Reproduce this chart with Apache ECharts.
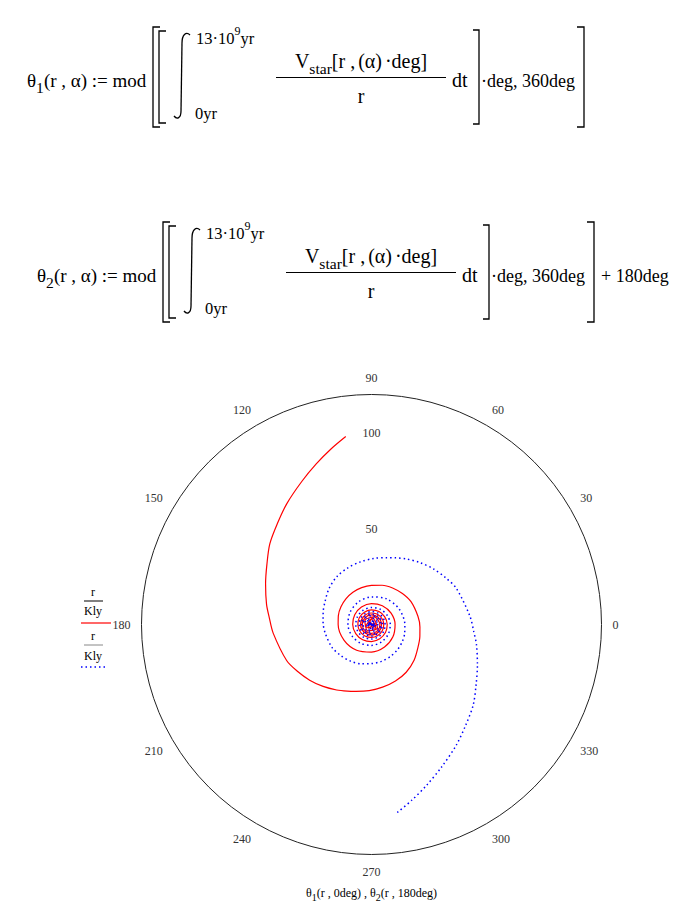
<!DOCTYPE html>
<html><head><meta charset="utf-8">
<script src="https://cdn.jsdelivr.net/npm/echarts@6/dist/echarts.min.js"></script>
<style>html,body{margin:0;padding:0;background:#fff}#c{width:685px;height:905px}</style>
</head><body><div id="c"></div>
<script>
// ---- data ----
const angleTicks = [0, 30, 60, 90, 120, 150, 180, 210, 240, 270, 300, 330];
const radiusTickLabels = [50, 100];
const radiusMax = 120;

// theta1(r, 0deg) : radius in Kly and angle in deg (outer end -> centre)
const redR = [99, 94, 88.6, 83, 77, 72, 67.7, 63, 59.2, 55.8, 53.5, 51.5, 48.1, 45.8, 43.4, 41, 38.7, 37, 35.8, 34.5, 33.2, 32, 30.8, 29, 27, 26, 25.3,
  24.6, 23.8, 22.8, 22, 21.2, 20.4, 19.9, 19.4, 18.9, 18.4, 17.9, 17.4, 16.5, 15.5, 14.4, 13.6, 12.9,
  12.3, 11.8, 11.3, 10.9, 10.5, 10.1, 9.8, 9.5, 9.2, 8.9, 8.6, 8.4,
  8.2, 8.0, 7.8, 7.6, 7.4, 7.3, 7.1, 7.0, 6.9, 6.75, 6.6, 6.5,
  6.4, 6.2, 6.0, 5.85, 5.7, 5.55, 5.45, 5.35,
  5.25, 5.1, 5.0, 4.9, 4.8, 4.7, 4.6, 4.5,
  4.4, 4.2, 4.0, 3.8, 3.6, 3.4, 3.2, 3.0, 2.8, 2.6, 2.4, 2.2, 2.0, 1.8, 1.6, 1.4, 1.2, 1.0, 0.8, 0.6, 0.4];
const redTheta = [97.8, 103, 109, 116, 125, 133, 141.6, 150, 159, 169, 176, 185, 203, 212, 222, 232, 242, 250, 257, 268, 280, 293, 306, 320, 334, 346, 357,
  10, 30, 45, 60, 75, 90, 105, 120, 135, 150, 165, 180, 210, 240, 270, 300, 330,
  0, 30, 60, 90, 120, 150, 180, 210, 240, 270, 300, 330,
  0, 30, 60, 90, 120, 150, 180, 210, 240, 270, 300, 330,
  0, 45, 90, 135, 180, 225, 270, 315,
  0, 45, 90, 135, 180, 225, 270, 315,
  0, 70, 150, 240, 330, 80, 200, 320, 90, 230, 10, 170, 330, 140, 310, 120, 300, 130, 320, 170, 20];

// theta2(r, 180deg)
const blueR = [99, 94, 88.6, 83, 77, 72, 67.7, 63, 59.2, 55.8, 53.5, 51.5, 48.1, 45.8, 43.4, 41, 38.7, 37, 35.8, 34.5, 33.2, 32, 30.8, 29, 27, 26, 25.3,
  24.6, 23.8, 22.8, 22, 21.2, 20.4, 19.9, 19.4, 18.9, 18.4, 17.9, 17.4, 16.5, 15.5, 14.4, 13.6, 12.9,
  12.3, 11.8, 11.3, 10.9, 10.5, 10.1, 9.8, 9.5, 9.2, 8.9, 8.6, 8.4,
  8.2, 8.0, 7.8, 7.6, 7.4, 7.3, 7.1, 7.0, 6.9, 6.75, 6.6, 6.5,
  6.4, 6.2, 6.0, 5.85, 5.7, 5.55, 5.45, 5.35,
  5.25, 5.1, 5.0, 4.9, 4.8, 4.7, 4.6, 4.5,
  4.4, 4.2, 4.0, 3.8, 3.6, 3.4, 3.2, 3.0, 2.8, 2.6, 2.4, 2.2, 2.0, 1.8, 1.6, 1.4, 1.2, 1.0, 0.8, 0.6, 0.4];
const blueTheta = [277.8, 283, 289, 296, 305, 313, 321.6, 330, 339, 349, 356, 5, 23, 32, 42, 52, 62, 70, 77, 88, 100, 113, 126, 140, 154, 166, 177,
  190, 210, 225, 240, 255, 270, 285, 300, 315, 330, 345, 0, 30, 60, 90, 120, 150,
  180, 210, 240, 270, 300, 330, 0, 30, 60, 90, 120, 150,
  180, 210, 240, 270, 300, 330, 0, 30, 60, 90, 120, 150,
  180, 225, 270, 315, 0, 45, 90, 135,
  180, 225, 270, 315, 0, 45, 90, 135,
  180, 250, 330, 60, 150, 260, 20, 140, 270, 50, 190, 350, 150, 320, 130, 300, 120, 310, 140, 350, 200];

// ---- chart ----
const SERIF = '"Liberation Serif", "Times New Roman", serif';
const chart = echarts.init(document.getElementById('c'), null, {renderer: 'svg'});
const CX = 371.5, CY = 624.5, RAD = 230;

function richStyles(main) {
  return {
    m: {fontSize: main, fontFamily: SERIF, fill: '#000', lineHeight: 30, verticalAlign: 'middle'},
    n: {fontSize: 20, fontFamily: SERIF, fill: '#000', lineHeight: 30, verticalAlign: 'middle'},
    g: {fontSize: 20, fontFamily: SERIF, fill: '#000', lineHeight: 30, verticalAlign: 'middle', padding: [0, 3, 0, 0]},
    k: {fontSize: 18, fontFamily: SERIF, fill: '#000', lineHeight: 30, verticalAlign: 'middle'},
    s: {fontSize: main * 0.82, fontFamily: SERIF, fill: '#000', lineHeight: 30, verticalAlign: 'bottom'},
    l: {fontSize: 16.5, fontFamily: SERIF, fill: '#000', lineHeight: 26, verticalAlign: 'middle'},
    p: {fontSize: 12, fontFamily: SERIF, fill: '#000', lineHeight: 26, verticalAlign: 'top'}
  };
}
function txt(x, y, text, align, size) {
  return {type: 'text', x: x, y: y, style: {text: text, rich: richStyles(size || 19), align: align || 'left', verticalAlign: 'middle'}};
}
function line(x1, y1, x2, y2, color, w) {
  return {type: 'line', shape: {x1: x1, y1: y1, x2: x2, y2: y2}, style: {stroke: color || '#000', lineWidth: w || 1}};
}
function poly(points, w) {
  return {type: 'polyline', shape: {points: points}, style: {stroke: '#000', lineWidth: w || 1.3, fill: null}};
}
function bez(x1, y1, cx1, cy1, cx2, cy2, x2, y2) {
  return {type: 'bezierCurve', shape: {x1: x1, y1: y1, cpx1: cx1, cpy1: cy1, cpx2: cx2, cpy2: cy2, x2: x2, y2: y2},
    style: {stroke: '#000', lineWidth: 1.3, fill: null}};
}
function formula(dx, dy, idx, extra) {
  const g = [];
  const X = v => v + dx, Y = v => v + dy;
  g.push(txt(X(27), Y(80), '{m|θ}{s|' + idx + '}{m|(r , α) := mod}'));
  // left double bracket
  g.push(poly([[X(160), Y(27)], [X(153), Y(27)], [X(153), Y(127)], [X(160), Y(127)]]));
  g.push(poly([[X(166), Y(31)], [X(159), Y(31)], [X(159), Y(123)], [X(166), Y(123)]]));
  // integral sign
  g.push(bez(X(190), Y(35), X(186), Y(31), X(182), Y(35), X(182), Y(43)));
  g.push(line(X(182), Y(43), X(181), Y(111), '#000', 1.3));
  g.push(bez(X(181), Y(111), X(181), Y(118), X(177), Y(120), X(174), Y(116)));
  g.push(txt(X(196), Y(38), '{l|13·10}{p|9}{l|yr}'));
  g.push(txt(X(195), Y(113), '{l|0yr}'));
  // fraction
  g.push(txt(X(361), Y(61), '{n|V}{s|star}{g|[r ,}{g|(α)}{n|·deg]}', 'center'));
  g.push(line(X(276), Y(77.5), X(446), Y(77.5), '#000', 1.2));
  g.push(txt(X(361), Y(96), '{n|r}', 'center'));
  g.push(txt(X(452), Y(80), '{n|dt}'));
  // inner right bracket
  g.push(poly([[X(473), Y(30)], [X(479), Y(30)], [X(479), Y(124)], [X(473), Y(124)]]));
  g.push(txt(X(481), Y(81), '{k|·deg, 360deg}'));
  // outer right bracket
  g.push(poly([[X(577), Y(27)], [X(584), Y(27)], [X(584), Y(127)], [X(577), Y(127)]]));
  if (extra) g.push(txt(X(591), Y(81), '{k|' + extra + '}'));
  return g;
}

const graphics = [].concat(
  formula(0, 0, 1, null),
  formula(10, 195, 2, '+ 180deg'),
  [
    // legend (left)
    {type: 'text', x: 93, y: 592, style: {text: 'r', font: '12px ' + SERIF, fill: '#000', align: 'center', verticalAlign: 'middle'}},
    line(84, 601, 103, 601, '#000', 1),
    {type: 'text', x: 93, y: 611, style: {text: 'Kly', font: '12px ' + SERIF, fill: '#000', align: 'center', verticalAlign: 'middle'}},
    line(81, 623, 111, 623, '#ff0000', 1.2),
    {type: 'text', x: 93, y: 636, style: {text: 'r', font: '12px ' + SERIF, fill: '#000', align: 'center', verticalAlign: 'middle'}},
    line(84, 645, 103, 645, '#888', 1),
    {type: 'text', x: 93, y: 656, style: {text: 'Kly', font: '12px ' + SERIF, fill: '#000', align: 'center', verticalAlign: 'middle'}},
    {type: 'line', shape: {x1: 81, y1: 667, x2: 108, y2: 667}, style: {stroke: '#0000ff', lineWidth: 1.5, lineDash: [1.5, 3]}},
    // axis title
    {type: 'text', x: CX, y: 893, style: {text: '{t|θ}{u|1}{t|(r , 0deg) , θ}{u|2}{t|(r , 180deg)}', align: 'center', verticalAlign: 'middle',
      rich: {t: {fontSize: 12, fontFamily: SERIF, fill: '#000', lineHeight: 18, verticalAlign: 'middle'},
             u: {fontSize: 10, fontFamily: SERIF, fill: '#000', lineHeight: 18, verticalAlign: 'bottom'}}}}
  ]
);

chart.setOption({
  animation: false,
  backgroundColor: '#fff',
  polar: [{center: [CX, CY], radius: RAD}, {center: [CX, CY], radius: RAD}],
  angleAxis: [
    {polarIndex: 0, type: 'value', min: 0, max: 360, interval: 30, startAngle: 0, clockwise: false,
     axisLine: {show: true, lineStyle: {color: '#222', width: 1}}, axisTick: {show: false}, splitLine: {show: false},
     axisLabel: {margin: 11, color: '#333', fontFamily: SERIF, fontSize: 12,
       formatter: v => angleTicks.indexOf(v) >= 0 ? String(v) : ''}},
    {polarIndex: 1, type: 'value', min: 0, max: 360, startAngle: 90, clockwise: false,
     axisLine: {show: false}, axisTick: {show: false}, splitLine: {show: false}, axisLabel: {show: false}}
  ],
  radiusAxis: [
    {polarIndex: 0, type: 'value', min: 0, max: radiusMax, axisLine: {show: false}, axisTick: {show: false},
     splitLine: {show: false}, axisLabel: {show: false}},
    {polarIndex: 1, type: 'value', min: 0, max: radiusMax, interval: 50, axisLine: {show: false}, axisTick: {show: false},
     splitLine: {show: false},
     axisLabel: {margin: 0, align: 'center', verticalAlign: 'middle', color: '#333', fontFamily: SERIF, fontSize: 12,
       formatter: v => radiusTickLabels.indexOf(v) >= 0 ? String(v) : ''}}
  ],
  series: [
    {type: 'line', coordinateSystem: 'polar', polarIndex: 0, showSymbol: false, smooth: 0.3, clip: false,
     data: redR.map((r, i) => [r, redTheta[i]]), lineStyle: {color: '#ff0000', width: 1.2}},
    {type: 'line', coordinateSystem: 'polar', polarIndex: 0, showSymbol: false, smooth: 0.3, clip: false,
     data: blueR.map((r, i) => [r, blueTheta[i]]), lineStyle: {color: '#0000ff', width: 1.5, type: [1.5, 3]}}
  ],
  graphic: graphics
});
</script>
</body></html>
